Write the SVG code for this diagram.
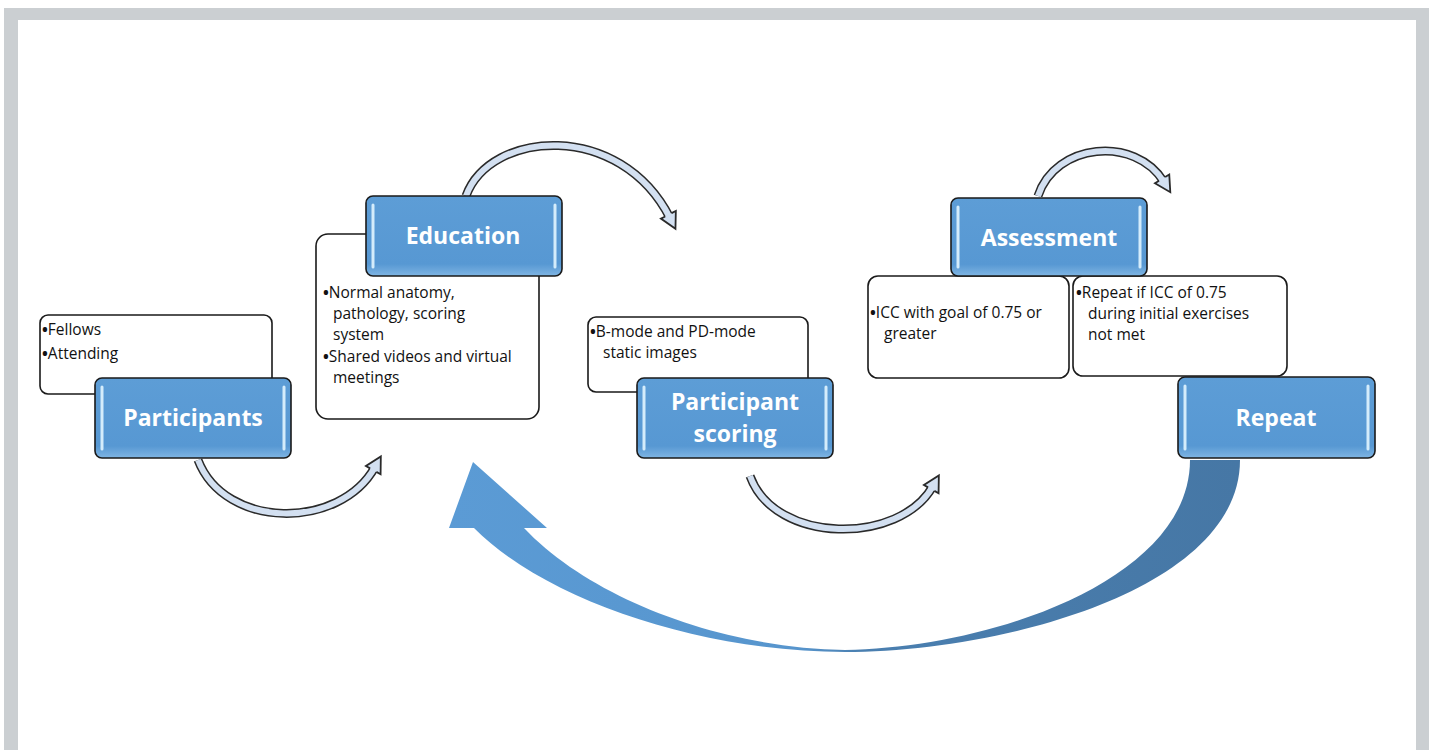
<svg xmlns="http://www.w3.org/2000/svg" width="1429" height="750" viewBox="0 0 1429 750">
<defs>
<style>
.frame{fill:#cbcfd2}
.tbox{fill:#ffffff;stroke:#1a1a1a;stroke-width:1.6}
.bbox{fill:url(#bg);stroke:#1a1a1a;stroke-width:1.6}
.hl{stroke:#d4ecfb;stroke-width:3;stroke-linecap:round;fill:none}
.title{font-family:"Open Sans","Liberation Sans",sans-serif;font-weight:bold;font-size:23px;fill:#ffffff;text-anchor:middle}
.body{font-family:"Open Sans","Liberation Sans",sans-serif;font-size:15.5px;fill:#111111}
.bul{font-weight:bold}
.arcO{fill:none;stroke:#2a2a2a;stroke-width:9}
.arcI{fill:none;stroke:#d3e0f1;stroke-width:6}
</style>
<linearGradient id="bg" x1="0" y1="0" x2="0" y2="1">
<stop offset="0" stop-color="#5d9dd6"/>
<stop offset="0.85" stop-color="#5798d3"/>
<stop offset="1" stop-color="#7fb5e3"/>
</linearGradient>
<linearGradient id="big" gradientUnits="userSpaceOnUse" x1="450" y1="0" x2="1240" y2="0">
<stop offset="0" stop-color="#5b9bd5"/>
<stop offset="0.44" stop-color="#5795cd"/>
<stop offset="0.52" stop-color="#4a7fb0"/>
<stop offset="1" stop-color="#4677a5"/>
</linearGradient>
<marker id="hd" markerUnits="userSpaceOnUse" markerWidth="24" markerHeight="24" refX="3" refY="0" viewBox="-2 -10 18 20" orient="auto">
<path d="M0,-3 L0,-7 L13,0 L0,7 L0,3" fill="#d3e0f1" stroke="#2a2a2a" stroke-width="1.5" stroke-linejoin="miter"/>
</marker>
</defs>
<rect x="0" y="0" width="1429" height="750" fill="#ffffff"/>
<rect class="frame" x="4" y="8" width="1425" height="12"/>
<rect class="frame" x="4" y="8" width="14" height="742"/>
<rect class="frame" x="1416" y="8" width="13" height="742"/>

<g id="connectors">
<path d="M1240,460 C1240,590 1000,652 845,652 C700,652 545,600 474,528 L449,528 L473,462 L547,528 L524,528 C590,598 720,648 845,650 C990,648 1190,580 1190,460 Z" fill="url(#big)"/>
<path class="arcO" d="M198,460 C225,530 340,530 375,467"/>
<path class="arcI" d="M198,460 C225,530 340,530 375,467" marker-end="url(#hd)"/>
<path class="arcO" d="M466,196 C490,130 620,120 670,218"/>
<path class="arcI" d="M466,196 C490,130 620,120 670,218" marker-end="url(#hd)"/>
<path class="arcO" d="M750,476 C775,545 900,545 933,486"/>
<path class="arcI" d="M750,476 C775,545 900,545 933,486" marker-end="url(#hd)"/>
<path class="arcO" d="M1038,196 C1055,143 1135,135 1164,182"/>
<path class="arcI" d="M1038,196 C1055,143 1135,135 1164,182" marker-end="url(#hd)"/>
</g>

<g id="participants-notes">
<rect class="tbox" x="40" y="315" width="232" height="79" rx="8"/>
<text class="body" x="42" y="335"><tspan class="bul">•</tspan>Fellows</text>
<text class="body" x="42" y="359"><tspan class="bul">•</tspan>Attending</text>
</g>
<g id="participants">
<rect class="bbox" x="95" y="378" width="196" height="80" rx="7"/>
<line class="hl" x1="102" y1="387" x2="102" y2="449"/>
<line class="hl" x1="284" y1="387" x2="284" y2="449"/>
<text class="title" x="193" y="426">Participants</text>
</g>

<g id="education-notes">
<rect class="tbox" x="316" y="234" width="223" height="185" rx="12"/>
<text class="body" x="323" y="298"><tspan class="bul">•</tspan>Normal anatomy,</text>
<text class="body" x="333" y="319">pathology, scoring</text>
<text class="body" x="333" y="340">system</text>
<text class="body" x="323" y="362"><tspan class="bul">•</tspan>Shared videos and virtual</text>
<text class="body" x="333" y="383">meetings</text>
</g>
<g id="education">
<rect class="bbox" x="366" y="196" width="196" height="80" rx="7"/>
<line class="hl" x1="373" y1="205" x2="373" y2="267"/>
<line class="hl" x1="555" y1="205" x2="555" y2="267"/>
<text class="title" x="463" y="244">Education</text>
</g>

<g id="scoring-notes">
<rect class="tbox" x="588" y="317" width="220" height="75" rx="8"/>
<text class="body" x="590" y="337"><tspan class="bul">•</tspan>B-mode and PD-mode</text>
<text class="body" x="603" y="358">static images</text>
</g>
<g id="participant-scoring">
<rect class="bbox" x="637" y="378" width="196" height="80" rx="7"/>
<line class="hl" x1="644" y1="387" x2="644" y2="449"/>
<line class="hl" x1="826" y1="387" x2="826" y2="449"/>
<text class="title" x="735" y="410">Participant</text>
<text class="title" x="735" y="442">scoring</text>
</g>

<g id="assessment-notes-1">
<rect class="tbox" x="868" y="276" width="201" height="102" rx="10"/>
<text class="body" x="870" y="318"><tspan class="bul">•</tspan>ICC with goal of 0.75 or</text>
<text class="body" x="884" y="339">greater</text>
</g>
<g id="assessment-notes-2">
<rect class="tbox" x="1073" y="276" width="214" height="100" rx="10"/>
<text class="body" x="1076" y="298"><tspan class="bul">•</tspan>Repeat if ICC of 0.75</text>
<text class="body" x="1088" y="319">during initial exercises</text>
<text class="body" x="1088" y="340">not met</text>
</g>
<g id="assessment">
<rect class="bbox" x="951" y="198" width="196" height="78" rx="7"/>
<line class="hl" x1="958" y1="207" x2="958" y2="267"/>
<line class="hl" x1="1140" y1="207" x2="1140" y2="267"/>
<text class="title" x="1049" y="246">Assessment</text>
</g>

<g id="repeat">
<rect class="bbox" x="1178" y="377" width="197" height="81" rx="7"/>
<line class="hl" x1="1185" y1="386" x2="1185" y2="449"/>
<line class="hl" x1="1368" y1="386" x2="1368" y2="449"/>
<text class="title" x="1276" y="426">Repeat</text>
</g>
</svg>
